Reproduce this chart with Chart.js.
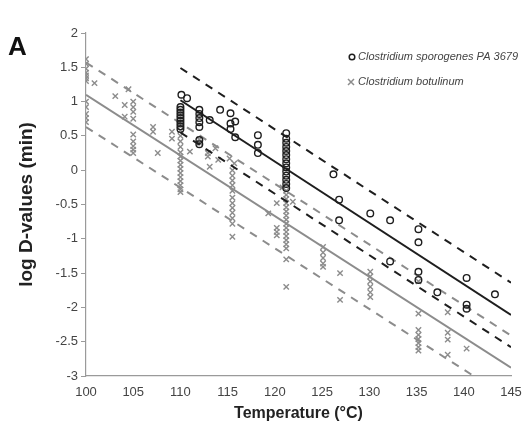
<!DOCTYPE html>
<html>
<head>
<meta charset="utf-8">
<script src="https://cdn.jsdelivr.net/npm/chart.js@4.4.0/dist/chart.umd.min.js"></script>
<style>
  html, body { margin: 0; padding: 0; background: #fff; }
  #wrap { width: 524px; height: 430px; }
</style>
</head>
<body>
<div id="wrap"><canvas id="dChart" width="524" height="430"></canvas></div>
<script>
// Log D-values vs temperature
const xTicks = [100, 105, 110, 115, 120, 125, 130, 135, 140, 145];
const yTicks = [-3, -2.5, -2, -1.5, -1, -0.5, 0, 0.5, 1, 1.5, 2];

// Clostridium sporogenes PA 3679  [temperature, log D]
const sporoPoints = [
  [110.1, 1.10], [110.7, 1.05], [110, 0.92], [110, 0.88], [110, 0.84], [110, 0.80], [110, 0.76],
  [110, 0.72], [110, 0.68], [110, 0.64], [110, 0.60],
  [112, 0.88], [112, 0.82], [112, 0.76], [112, 0.70], [112, 0.63], [112, 0.44], [112, 0.38],
  [113.1, 0.73], [114.2, 0.88], [115.3, 0.83], [115.3, 0.68], [115.3, 0.60], [115.8, 0.71], [115.8, 0.48],
  [118.2, 0.51], [118.2, 0.37], [118.2, 0.25],
  [121.2, 0.54], [121.2, 0.46], [121.2, 0.40], [121.2, 0.34], [121.2, 0.28], [121.2, 0.22], [121.2, 0.16],
  [121.2, 0.10], [121.2, 0.04], [121.2, -0.02], [121.2, -0.08], [121.2, -0.14], [121.2, -0.20], [121.2, -0.26],
  [126.2, -0.06], [126.8, -0.43], [126.8, -0.73], [130.1, -0.63], [132.2, -0.73], [132.2, -1.33],
  [135.2, -0.86], [135.2, -1.05], [135.2, -1.48], [135.2, -1.60], [137.2, -1.78],
  [140.3, -1.57], [140.3, -1.96], [140.3, -2.02], [143.3, -1.81]
];

// Clostridium botulinum  [temperature, log D]
const botuPoints = [
  [100, 1.62], [100, 1.55], [100, 1.48], [100, 1.42], [100, 1.38], [100, 1.34], [100, 1.30],
  [100, 1.00], [100, 0.92], [100, 0.82], [100, 0.76], [100, 0.70], [100.9, 1.27],
  [103.1, 1.08], [104.1, 0.95], [104.1, 0.78], [104.5, 1.18],
  [105, 1.00], [105, 0.92], [105, 0.85], [105, 0.75], [105, 0.52], [105, 0.42], [105, 0.35], [105, 0.30], [105, 0.25],
  [107.1, 0.63], [107.1, 0.56], [107.6, 0.25], [109.1, 0.56], [109.1, 0.46],
  [110, 0.58], [110, 0.50], [110, 0.42], [110, 0.34], [110, 0.26], [110, 0.20], [110, 0.14], [110, 0.08],
  [110, 0.02], [110, -0.04], [110, -0.10], [110, -0.16], [110, -0.22], [110, -0.28], [110, -0.32],
  [111, 0.27], [112, 0.45], [112, 0.40], [112.9, 0.25], [112.9, 0.20], [113.1, 0.05], [113.7, 0.32], [114, 0.15],
  [115.2, 0.17], [115.7, 0.10],
  [115.5, 0.00], [115.5, -0.08], [115.5, -0.15], [115.5, -0.22], [115.5, -0.30], [115.5, -0.40],
  [115.5, -0.48], [115.5, -0.55], [115.5, -0.62], [115.5, -0.70], [115.5, -0.78], [115.5, -0.97],
  [119.3, -0.63], [120.2, -0.48], [120.2, -0.84], [120.2, -0.90], [120.2, -0.95], [120.8, -0.25],
  [121.2, -0.30], [121.2, -0.36], [121.2, -0.42], [121.2, -0.48], [121.2, -0.54], [121.2, -0.60],
  [121.2, -0.66], [121.2, -0.72], [121.2, -0.78], [121.2, -0.84], [121.2, -0.90], [121.2, -0.96],
  [121.2, -1.02], [121.2, -1.08], [121.2, -1.14], [121.2, -1.30], [121.2, -1.70], [121.9, -0.46],
  [125.1, -1.12], [125.1, -1.20], [125.1, -1.28], [125.1, -1.36], [125.1, -1.41],
  [126.9, -1.50], [126.9, -1.89],
  [130.1, -1.48], [130.1, -1.55], [130.1, -1.62], [130.1, -1.70], [130.1, -1.78], [130.1, -1.85],
  [135.2, -1.62], [135.2, -2.09], [135.2, -2.33], [135.2, -2.40], [135.2, -2.46], [135.2, -2.52],
  [135.2, -2.58], [135.2, -2.63],
  [138.3, -2.07], [138.3, -2.37], [138.3, -2.47], [138.3, -2.69], [140.3, -2.60]
];

// regression lines and prediction bands (end points)
const sporoFitT = [110, 145];
const sporoFit = [1.02, -2.11];
const sporoUpper = [1.49, -1.64];
const sporoLower = [0.55, -2.58];
const botuFitT = [100, 145];
const botuFit = [1.10, -2.88];
const botuUpper = [1.57, -2.41];
const botuLower = [0.63, -3.35];

const BLACK = '#1e1e1e';
const GREY = '#8c8c8c';
const FONT = "'Liberation Sans', Arial, sans-serif";

function toXY(pairs) {
  return pairs.map(p => ({ x: p[0], y: p[1] }));
}
function lineXY(ts, ys) {
  return ts.map((t, i) => ({ x: t, y: ys[i] }));
}
function lineSet(ts, ys, color, dashed) {
  return {
    type: 'line',
    data: lineXY(ts, ys),
    borderColor: color,
    borderWidth: 2,
    borderDash: dashed ? [8, 7] : [],
    pointRadius: 0,
    fill: false
  };
}

// panel letter + legend drawn on top of the chart
const extras = {
  id: 'extras',
  afterDraw(chart) {
    const ctx = chart.ctx;
    ctx.save();
    ctx.fillStyle = '#111';
    ctx.font = 'bold 26px ' + FONT;
    ctx.textBaseline = 'alphabetic';
    ctx.fillText('A', 8, 55);

    ctx.font = 'italic 11px ' + FONT;
    ctx.fillStyle = '#444';
    ctx.textBaseline = 'middle';
    // circle marker
    ctx.beginPath();
    ctx.strokeStyle = BLACK;
    ctx.lineWidth = 1.5;
    ctx.arc(352, 57, 2.8, 0, Math.PI * 2);
    ctx.stroke();
    ctx.fillText('Clostridium sporogenes PA 3679', 358, 57);
    // cross marker
    ctx.beginPath();
    ctx.strokeStyle = GREY;
    ctx.moveTo(348, 79); ctx.lineTo(354, 85);
    ctx.moveTo(354, 79); ctx.lineTo(348, 85);
    ctx.stroke();
    ctx.fillText('Clostridium botulinum', 358, 82);
    ctx.restore();
  }
};

const ctx = document.getElementById('dChart').getContext('2d');
const dChart = new Chart(ctx, {
  type: 'scatter',
  data: {
    datasets: [
      lineSet(sporoFitT, sporoFit, BLACK, false),
      lineSet(sporoFitT, sporoUpper, BLACK, true),
      lineSet(sporoFitT, sporoLower, BLACK, true),
      {
        label: 'Clostridium sporogenes PA 3679',
        data: toXY(sporoPoints),
        pointStyle: 'circle',
        pointRadius: 3.3,
        borderColor: BLACK,
        backgroundColor: 'rgba(0,0,0,0)',
        borderWidth: 1.4
      },
      lineSet(botuFitT, botuFit, GREY, false),
      lineSet(botuFitT, botuUpper, GREY, true),
      lineSet(botuFitT, botuLower, GREY, true),
      {
        label: 'Clostridium botulinum',
        data: toXY(botuPoints),
        pointStyle: 'crossRot',
        pointRadius: 3.8,
        borderColor: GREY,
        backgroundColor: GREY,
        borderWidth: 1.4
      }
    ]
  },
  options: {
    responsive: false,
    animation: false,
    layout: { padding: { left: 0, right: 13, top: 33, bottom: 0 } },
    plugins: {
      legend: { display: false },
      tooltip: { enabled: false }
    },
    scales: {
      x: {
        type: 'linear',
        min: 100,
        max: 145,
        afterBuildTicks: s => { s.ticks = xTicks.map(v => ({ value: v })); },
        afterFit: s => { s.height = 54; s.paddingLeft = 0; s.paddingRight = 0; },
        grid: { display: false, drawTicks: false },
        border: { color: '#9a9a9a', width: 1.2 },
        ticks: { padding: 9, color: '#444', font: { family: FONT, size: 13 }, callback: v => String(v) },
        title: {
          display: true,
          text: 'Temperature (°C)',
          color: '#222',
          font: { family: FONT, size: 16, weight: 'bold' },
          padding: { top: 0, bottom: 7 }
        }
      },
      y: {
        type: 'linear',
        min: -3,
        max: 2,
        afterBuildTicks: s => { s.ticks = yTicks.map(v => ({ value: v })); },
        afterFit: s => { s.width = 86; s.paddingTop = 0; s.paddingBottom = 0; },
        grid: { drawOnChartArea: false, drawTicks: true, tickLength: 5, color: '#9a9a9a' },
        border: { color: '#9a9a9a', width: 1.2 },
        ticks: { padding: 3, color: '#444', font: { family: FONT, size: 13 }, callback: v => String(v) },
        title: {
          display: true,
          text: 'log D-values (min)',
          color: '#222',
          font: { family: FONT, size: 19, weight: 'bold' },
          padding: { top: 15, bottom: 0 }
        }
      }
    }
  },
  plugins: [extras]
});
</script>
</body>
</html>
